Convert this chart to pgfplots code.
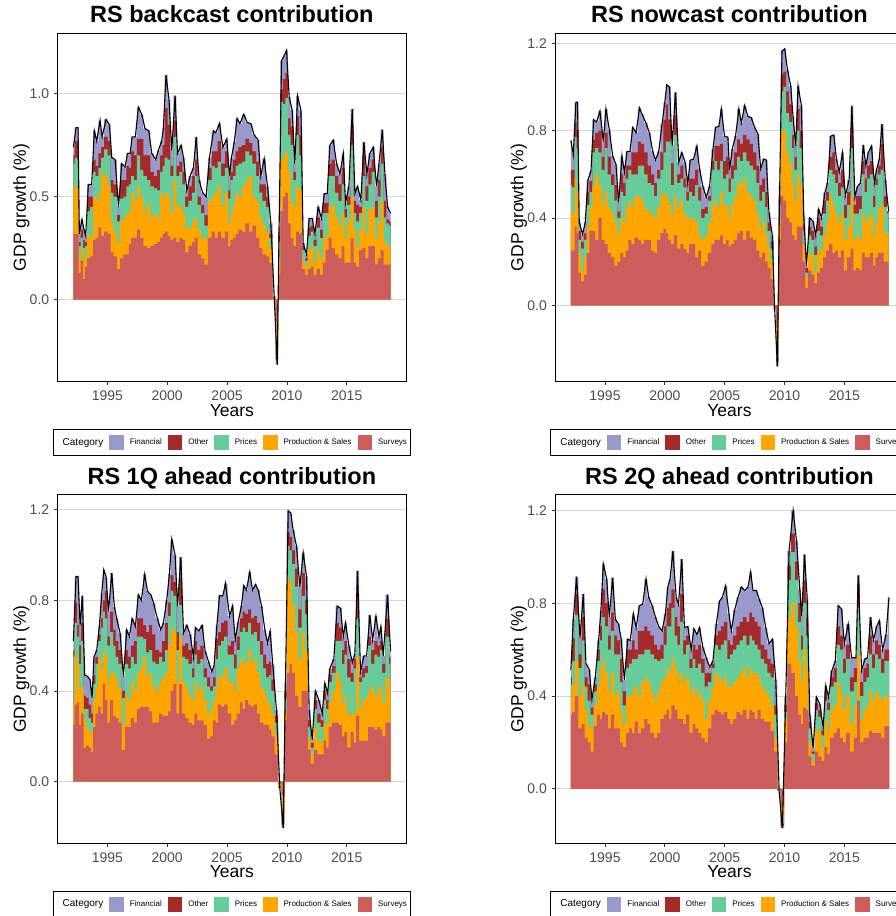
\documentclass[border=0pt]{standalone}
\usepackage{pgfplots}
\pgfplotsset{compat=1.18}
\usepackage{pgfplotstable}
\usepackage{fontspec}
\setmainfont{Liberation Sans}
\definecolor{cFin}{HTML}{9999CC}
\definecolor{cOth}{HTML}{A52A2A}
\definecolor{cPri}{HTML}{66CC99}
\definecolor{cPro}{HTML}{FFA500}
\definecolor{cSur}{HTML}{CD5C5C}
\definecolor{tickgray}{HTML}{4D4D4D}
\definecolor{gridgray}{HTML}{D6D6D6}

% cumulative tops: S=Surveys, P=+Production & Sales, R=+Prices, O=+Other, T=+Financial (total)
\pgfplotstableread{
t S P R O T
1992.16 0.32 0.55 0.66 0.70 0.74
1992.38 0.32 0.55 0.69 0.77 0.835
1992.55 0.32 0.54 0.68 0.76 0.835
1992.66 0.13 0.20 0.26 0.28 0.32
1992.88 0.19 0.25 0.30 0.34 0.39
1993.05 0.10 0.18 0.25 0.29 0.34
1993.19 0.16 0.22 0.26 0.28 0.31
1993.41 0.20 0.32 0.43 0.50 0.56
1993.69 0.21 0.30 0.45 0.50 0.56
1993.91 0.29 0.50 0.62 0.68 0.82
1994.11 0.30 0.48 0.60 0.65 0.77
1994.39 0.35 0.52 0.64 0.71 0.87
1994.56 0.31 0.62 0.69 0.74 0.79
1994.89 0.33 0.60 0.73 0.79 0.875
1995.17 0.32 0.55 0.70 0.77 0.85
1995.37 0.23 0.38 0.52 0.58 0.69
1995.65 0.21 0.33 0.50 0.56 0.68
1995.93 0.15 0.28 0.38 0.41 0.45
1996.20 0.20 0.38 0.49 0.58 0.66
1996.48 0.22 0.40 0.50 0.58 0.645
1996.68 0.22 0.42 0.55 0.65 0.71
1996.90 0.27 0.43 0.56 0.64 0.71
1997.07 0.30 0.52 0.60 0.72 0.79
1997.34 0.30 0.48 0.58 0.70 0.79
1997.59 0.34 0.55 0.70 0.78 0.935
1997.87 0.30 0.50 0.63 0.78 0.90
1998.15 0.26 0.43 0.60 0.70 0.83
1998.46 0.25 0.46 0.58 0.70 0.82
1998.71 0.26 0.40 0.55 0.62 0.71
1999.04 0.27 0.42 0.54 0.60 0.68
1999.26 0.28 0.40 0.53 0.63 0.725
1999.54 0.30 0.52 0.62 0.70 0.77
1999.68 0.32 0.50 0.65 0.75 0.835
1999.90 0.33 0.52 0.69 0.93 1.09
2000.15 0.31 0.50 0.68 0.85 0.97
2000.38 0.29 0.42 0.60 0.65 0.725
2000.66 0.30 0.58 0.79 0.87 0.99
2000.86 0.28 0.46 0.60 0.65 0.71
2001.16 0.30 0.45 0.62 0.67 0.75
2001.36 0.29 0.42 0.56 0.62 0.69
2001.64 0.23 0.35 0.45 0.50 0.53
2001.91 0.26 0.35 0.48 0.55 0.60
2002.19 0.28 0.38 0.52 0.60 0.64
2002.42 0.30 0.40 0.60 0.68 0.79
2002.67 0.22 0.34 0.46 0.50 0.58
2002.95 0.20 0.30 0.42 0.46 0.52
2003.25 0.17 0.30 0.36 0.41 0.50
2003.53 0.30 0.48 0.58 0.64 0.69
2003.87 0.33 0.50 0.65 0.72 0.82
2004.06 0.30 0.52 0.64 0.72 0.81
2004.37 0.33 0.55 0.67 0.77 0.855
2004.65 0.30 0.46 0.60 0.66 0.74
2004.98 0.33 0.52 0.64 0.72 0.78
2005.20 0.26 0.37 0.49 0.53 0.60
2005.37 0.29 0.42 0.58 0.62 0.69
2005.60 0.30 0.47 0.60 0.68 0.765
2005.84 0.32 0.52 0.65 0.72 0.88
2006.07 0.34 0.50 0.66 0.74 0.855
2006.40 0.33 0.55 0.67 0.75 0.90
2006.68 0.37 0.58 0.72 0.78 0.86
2006.99 0.33 0.60 0.70 0.76 0.855
2007.26 0.36 0.50 0.66 0.72 0.80
2007.60 0.30 0.48 0.60 0.67 0.775
2007.82 0.25 0.40 0.52 0.56 0.60
2008.10 0.22 0.36 0.48 0.56 0.685
2008.38 0.21 0.33 0.45 0.50 0.55
2008.66 0.18 0.25 0.30 0.32 0.37
2008.94 0.005 0.008 0.012 0.014 0.015
2009.19 -0.11 -0.225 -0.265 -0.29 -0.315
2009.35 0.12 0.18 0.28 0.31 0.355
2009.55 0.43 0.68 0.96 1.02 1.16
2009.77 0.50 0.70 0.95 1.07 1.185
2009.97 0.52 0.72 0.98 1.10 1.21
2010.19 0.37 0.62 0.80 0.88 0.985
2010.44 0.30 0.48 0.75 0.84 0.92
2010.66 0.26 0.45 0.58 0.62 0.66
2010.89 0.33 0.55 0.80 0.89 0.99
2011.17 0.32 0.53 0.70 0.80 0.92
2011.36 0.15 0.19 0.24 0.26 0.275
2011.64 0.12 0.16 0.19 0.20 0.22
2011.86 0.15 0.24 0.31 0.35 0.395
2012.11 0.16 0.26 0.33 0.36 0.395
2012.34 0.12 0.18 0.26 0.29 0.32
2012.61 0.15 0.24 0.35 0.40 0.45
2012.89 0.12 0.20 0.30 0.34 0.395
2013.12 0.18 0.30 0.42 0.47 0.515
2013.37 0.24 0.31 0.42 0.47 0.515
2013.59 0.30 0.45 0.60 0.66 0.75
2013.87 0.25 0.46 0.60 0.68 0.775
2014.15 0.22 0.40 0.52 0.60 0.66
2014.43 0.20 0.36 0.48 0.56 0.61
2014.71 0.26 0.42 0.56 0.64 0.71
2014.90 0.18 0.30 0.40 0.44 0.47
2015.18 0.18 0.38 0.46 0.50 0.55
2015.46 0.30 0.50 0.75 0.84 0.925
2015.68 0.18 0.34 0.42 0.48 0.515
2015.90 0.16 0.26 0.38 0.46 0.55
2016.18 0.24 0.34 0.42 0.45 0.485
2016.43 0.25 0.45 0.60 0.70 0.765
2016.68 0.20 0.32 0.48 0.55 0.61
2016.93 0.26 0.44 0.56 0.64 0.71
2017.21 0.26 0.45 0.62 0.68 0.74
2017.49 0.17 0.30 0.40 0.48 0.55
2017.69 0.20 0.38 0.50 0.58 0.66
2017.97 0.24 0.48 0.66 0.74 0.825
2018.19 0.17 0.28 0.40 0.48 0.61
2018.41 0.17 0.26 0.37 0.39 0.45
2018.66 0.17 0.26 0.36 0.38 0.42
}\tlA

\pgfplotstableread{
t S P R O T
1992.15 0.25 0.43 0.55 0.62 0.755
1992.35 0.25 0.42 0.54 0.62 0.69
1992.57 0.36 0.58 0.77 0.84 0.93
1992.71 0.33 0.52 0.72 0.80 0.93
1992.85 0.15 0.24 0.30 0.34 0.38
1993.13 0.11 0.16 0.26 0.29 0.325
1993.35 0.14 0.22 0.30 0.33 0.38
1993.58 0.24 0.36 0.46 0.52 0.575
1993.83 0.34 0.45 0.52 0.57 0.615
1994.05 0.34 0.55 0.70 0.76 0.85
1994.30 0.30 0.60 0.72 0.79 0.84
1994.58 0.40 0.55 0.70 0.80 0.89
1994.86 0.30 0.47 0.62 0.68 0.75
1995.08 0.28 0.52 0.72 0.79 0.90
1995.36 0.24 0.45 0.60 0.68 0.805
1995.64 0.22 0.42 0.55 0.60 0.685
1995.92 0.18 0.38 0.48 0.55 0.645
1996.14 0.20 0.33 0.40 0.43 0.47
1996.42 0.24 0.40 0.52 0.60 0.685
1996.62 0.22 0.38 0.50 0.56 0.61
1996.84 0.25 0.45 0.58 0.64 0.705
1997.09 0.30 0.48 0.62 0.64 0.705
1997.32 0.28 0.45 0.60 0.70 0.815
1997.60 0.31 0.50 0.60 0.70 0.79
1997.88 0.30 0.50 0.64 0.75 0.905
1998.10 0.28 0.48 0.64 0.74 0.875
1998.43 0.30 0.44 0.60 0.70 0.835
1998.71 0.30 0.43 0.56 0.64 0.79
1998.99 0.25 0.42 0.55 0.60 0.705
1999.22 0.24 0.40 0.50 0.56 0.665
1999.49 0.30 0.45 0.58 0.62 0.705
1999.77 0.33 0.50 0.62 0.70 0.83
2000.00 0.35 0.52 0.70 0.85 0.93
2000.16 0.33 0.50 0.75 0.92 1.01
2000.39 0.30 0.47 0.75 0.85 1.00
2000.61 0.28 0.42 0.55 0.65 0.73
2000.89 0.32 0.50 0.78 0.87 0.975
2001.17 0.26 0.45 0.56 0.60 0.655
2001.42 0.28 0.48 0.58 0.64 0.70
2001.70 0.26 0.42 0.54 0.58 0.655
2001.92 0.24 0.40 0.48 0.52 0.555
2002.12 0.28 0.40 0.52 0.58 0.665
2002.40 0.28 0.40 0.50 0.58 0.67
2002.68 0.22 0.38 0.55 0.62 0.73
2002.90 0.25 0.33 0.48 0.54 0.625
2003.18 0.18 0.30 0.40 0.44 0.545
2003.46 0.20 0.32 0.42 0.45 0.495
2003.74 0.24 0.38 0.48 0.50 0.545
2004.02 0.28 0.46 0.62 0.66 0.715
2004.24 0.30 0.48 0.66 0.73 0.815
2004.52 0.30 0.45 0.62 0.73 0.82
2004.72 0.32 0.52 0.66 0.74 0.90
2004.99 0.28 0.46 0.58 0.66 0.775
2005.27 0.30 0.46 0.60 0.68 0.77
2005.41 0.27 0.40 0.52 0.58 0.62
2005.63 0.28 0.46 0.58 0.64 0.715
2005.91 0.30 0.50 0.62 0.70 0.775
2006.19 0.33 0.56 0.68 0.76 0.90
2006.39 0.34 0.55 0.66 0.74 0.835
2006.67 0.30 0.58 0.70 0.78 0.915
2006.94 0.34 0.52 0.66 0.76 0.865
2007.22 0.31 0.50 0.64 0.74 0.86
2007.50 0.30 0.48 0.62 0.70 0.815
2007.78 0.25 0.42 0.56 0.64 0.785
2008.01 0.22 0.36 0.48 0.55 0.625
2008.26 0.24 0.38 0.52 0.58 0.67
2008.48 0.20 0.32 0.45 0.52 0.665
2008.70 0.17 0.26 0.34 0.38 0.425
2008.98 0.12 0.20 0.26 0.29 0.32
2009.18 -0.010 -0.012 -0.015 -0.018 -0.02
2009.40 -0.10 -0.17 -0.24 -0.26 -0.28
2009.60 0.30 0.40 0.46 0.50 0.545
2009.79 0.50 0.80 0.98 1.06 1.165
2010.02 0.48 0.80 1.00 1.07 1.175
2010.24 0.40 0.70 0.88 0.98 1.08
2010.52 0.38 0.65 0.84 0.92 1.005
2010.71 0.32 0.56 0.72 0.78 0.865
2010.94 0.30 0.48 0.62 0.68 0.73
2011.13 0.36 0.60 0.80 0.90 1.005
2011.41 0.36 0.55 0.72 0.80 0.915
2011.61 0.20 0.28 0.34 0.37 0.41
2011.83 0.08 0.13 0.15 0.17 0.18
2012.11 0.16 0.24 0.32 0.36 0.40
2012.39 0.14 0.23 0.30 0.34 0.385
2012.61 0.10 0.15 0.23 0.27 0.32
2012.86 0.15 0.24 0.34 0.40 0.44
2013.09 0.17 0.26 0.32 0.36 0.40
2013.37 0.22 0.32 0.42 0.48 0.515
2013.59 0.25 0.38 0.48 0.52 0.56
2013.87 0.28 0.50 0.62 0.68 0.775
2014.12 0.24 0.46 0.60 0.70 0.78
2014.34 0.25 0.42 0.56 0.62 0.67
2014.57 0.22 0.38 0.50 0.56 0.61
2014.85 0.25 0.42 0.54 0.62 0.70
2015.07 0.16 0.30 0.40 0.46 0.50
2015.40 0.22 0.36 0.46 0.52 0.575
2015.63 0.26 0.50 0.72 0.82 0.915
2015.88 0.16 0.30 0.42 0.46 0.495
2016.10 0.17 0.32 0.42 0.50 0.545
2016.35 0.16 0.30 0.44 0.50 0.56
2016.58 0.24 0.42 0.60 0.66 0.735
2016.80 0.22 0.38 0.52 0.58 0.64
2017.00 0.22 0.40 0.58 0.64 0.70
2017.27 0.24 0.42 0.60 0.66 0.73
2017.50 0.18 0.32 0.45 0.50 0.56
2017.69 0.22 0.38 0.55 0.58 0.62
2017.92 0.24 0.44 0.60 0.64 0.67
2018.14 0.24 0.46 0.62 0.74 0.83
2018.42 0.20 0.33 0.45 0.50 0.575
2018.70 0.20 0.33 0.42 0.43 0.43
}\trA

\pgfplotstableread{
t S P R O T
1992.16 0.25 0.35 0.55 0.58 0.62
1992.38 0.34 0.56 0.70 0.79 0.905
1992.55 0.35 0.52 0.64 0.69 0.905
1992.72 0.25 0.40 0.52 0.60 0.69
1992.91 0.30 0.42 0.62 0.70 0.82
1993.11 0.15 0.28 0.32 0.38 0.47
1993.33 0.16 0.24 0.32 0.37 0.465
1993.55 0.15 0.22 0.28 0.34 0.45
1993.72 0.13 0.22 0.26 0.30 0.37
1993.88 0.24 0.36 0.43 0.47 0.55
1994.11 0.30 0.42 0.52 0.55 0.58
1994.33 0.33 0.54 0.62 0.65 0.685
1994.53 0.30 0.50 0.68 0.72 0.83
1994.70 0.43 0.58 0.75 0.80 0.935
1994.89 0.36 0.56 0.72 0.84 0.905
1995.09 0.26 0.45 0.60 0.64 0.75
1995.37 0.36 0.48 0.66 0.75 0.92
1995.59 0.29 0.48 0.60 0.67 0.77
1995.78 0.28 0.45 0.55 0.62 0.72
1996.06 0.26 0.41 0.52 0.58 0.655
1996.34 0.14 0.25 0.37 0.40 0.465
1996.62 0.24 0.38 0.52 0.58 0.67
1996.84 0.24 0.36 0.50 0.55 0.64
1997.07 0.28 0.44 0.55 0.60 0.72
1997.34 0.26 0.40 0.52 0.62 0.685
1997.59 0.32 0.48 0.64 0.72 0.825
1997.84 0.33 0.50 0.64 0.72 0.80
1998.12 0.33 0.55 0.63 0.69 0.915
1998.35 0.33 0.46 0.57 0.66 0.84
1998.63 0.31 0.48 0.58 0.69 0.825
1998.85 0.26 0.42 0.53 0.65 0.79
1999.18 0.26 0.40 0.52 0.58 0.72
1999.46 0.30 0.44 0.55 0.57 0.67
1999.68 0.29 0.46 0.53 0.62 0.70
1999.96 0.29 0.48 0.58 0.70 0.80
2000.18 0.31 0.60 0.73 0.79 0.915
2000.38 0.40 0.68 0.84 0.91 1.07
2000.66 0.43 0.66 0.82 0.88 1.00
2000.86 0.30 0.44 0.58 0.66 0.775
2001.14 0.43 0.64 0.78 0.90 0.99
2001.36 0.30 0.44 0.55 0.60 0.655
2001.64 0.28 0.42 0.54 0.61 0.69
2001.91 0.26 0.38 0.52 0.58 0.65
2002.19 0.25 0.36 0.46 0.50 0.55
2002.36 0.30 0.44 0.56 0.62 0.68
2002.64 0.27 0.40 0.52 0.58 0.665
2002.92 0.27 0.42 0.54 0.60 0.69
2003.17 0.25 0.36 0.46 0.50 0.575
2003.45 0.19 0.30 0.42 0.46 0.53
2003.73 0.20 0.32 0.40 0.42 0.485
2003.92 0.27 0.36 0.42 0.46 0.515
2004.15 0.26 0.42 0.54 0.63 0.69
2004.37 0.34 0.46 0.60 0.66 0.82
2004.65 0.33 0.47 0.62 0.70 0.82
2004.87 0.34 0.50 0.64 0.71 0.875
2005.21 0.30 0.44 0.56 0.60 0.73
2005.46 0.25 0.44 0.56 0.62 0.775
2005.68 0.27 0.40 0.50 0.56 0.625
2005.93 0.30 0.50 0.58 0.64 0.705
2006.20 0.35 0.54 0.66 0.72 0.775
2006.40 0.32 0.52 0.68 0.75 0.865
2006.62 0.36 0.53 0.66 0.74 0.845
2006.90 0.34 0.58 0.70 0.76 0.925
2007.12 0.33 0.52 0.65 0.72 0.845
2007.38 0.34 0.54 0.66 0.73 0.87
2007.60 0.30 0.48 0.62 0.70 0.845
2007.88 0.26 0.42 0.56 0.62 0.775
2008.16 0.25 0.40 0.50 0.56 0.67
2008.38 0.25 0.36 0.46 0.52 0.61
2008.60 0.23 0.34 0.47 0.53 0.665
2008.82 0.20 0.30 0.40 0.45 0.515
2009.13 0.12 0.21 0.26 0.29 0.315
2009.41 -0.010 -0.020 -0.025 -0.028 -0.03
2009.69 -0.06 -0.16 -0.18 -0.19 -0.205
2009.88 0.27 0.31 0.37 0.40 0.435
2010.11 0.48 0.90 1.04 1.10 1.195
2010.33 0.52 0.88 1.02 1.08 1.185
2010.52 0.48 0.78 0.96 1.02 1.11
2010.80 0.38 0.66 0.86 0.94 1.04
2011.08 0.33 0.54 0.68 0.76 0.86
2011.36 0.40 0.66 0.82 0.92 1.01
2011.64 0.40 0.58 0.74 0.80 0.905
2011.86 0.14 0.19 0.24 0.27 0.315
2012.11 0.08 0.12 0.15 0.17 0.185
2012.39 0.14 0.24 0.32 0.36 0.40
2012.67 0.12 0.18 0.26 0.30 0.36
2012.95 0.12 0.18 0.24 0.27 0.30
2013.17 0.18 0.26 0.36 0.40 0.435
2013.40 0.15 0.25 0.32 0.36 0.39
2013.59 0.24 0.35 0.44 0.47 0.50
2013.92 0.26 0.40 0.48 0.51 0.54
2014.20 0.26 0.48 0.62 0.70 0.775
2014.48 0.25 0.44 0.62 0.68 0.765
2014.71 0.20 0.34 0.52 0.58 0.64
2014.90 0.22 0.38 0.56 0.62 0.70
2015.18 0.15 0.30 0.46 0.54 0.60
2015.46 0.22 0.30 0.44 0.48 0.525
2015.68 0.17 0.30 0.50 0.54 0.565
2015.90 0.29 0.55 0.72 0.83 0.93
2016.15 0.18 0.32 0.44 0.46 0.485
2016.43 0.18 0.36 0.46 0.50 0.555
2016.66 0.18 0.37 0.48 0.51 0.555
2016.93 0.24 0.40 0.60 0.64 0.735
2017.16 0.24 0.42 0.52 0.58 0.625
2017.44 0.23 0.38 0.56 0.62 0.73
2017.69 0.24 0.40 0.55 0.60 0.64
2017.85 0.23 0.42 0.58 0.62 0.685
2018.05 0.20 0.35 0.48 0.52 0.555
2018.41 0.26 0.46 0.64 0.72 0.825
2018.66 0.26 0.42 0.52 0.55 0.575
}\blA

\pgfplotstableread{
t S P R O T
1992.15 0.32 0.40 0.45 0.48 0.51
1992.35 0.33 0.45 0.55 0.65 0.73
1992.63 0.40 0.55 0.75 0.84 0.915
1992.91 0.26 0.40 0.52 0.58 0.65
1993.19 0.28 0.45 0.64 0.74 0.84
1993.41 0.22 0.34 0.44 0.48 0.54
1993.69 0.20 0.28 0.38 0.45 0.515
1993.91 0.16 0.26 0.32 0.35 0.385
1994.19 0.27 0.36 0.42 0.45 0.48
1994.47 0.32 0.44 0.55 0.60 0.64
1994.66 0.30 0.52 0.64 0.70 0.77
1994.86 0.33 0.55 0.74 0.86 0.97
1995.14 0.32 0.50 0.70 0.80 0.905
1995.36 0.26 0.42 0.60 0.66 0.74
1995.64 0.32 0.50 0.68 0.76 0.91
1995.87 0.26 0.40 0.58 0.66 0.73
1996.14 0.26 0.42 0.58 0.64 0.71
1996.34 0.20 0.34 0.46 0.56 0.65
1996.62 0.18 0.28 0.36 0.42 0.47
1996.90 0.24 0.40 0.52 0.60 0.645
1997.12 0.26 0.40 0.54 0.60 0.64
1997.37 0.24 0.42 0.56 0.64 0.755
1997.60 0.29 0.44 0.56 0.60 0.695
1997.88 0.24 0.40 0.58 0.68 0.79
1998.15 0.26 0.46 0.58 0.68 0.795
1998.43 0.30 0.48 0.60 0.70 0.905
1998.66 0.28 0.46 0.60 0.68 0.825
1998.94 0.24 0.42 0.58 0.66 0.79
1999.22 0.22 0.38 0.56 0.62 0.74
1999.49 0.24 0.42 0.55 0.60 0.70
1999.77 0.30 0.46 0.56 0.62 0.68
2000.05 0.32 0.48 0.62 0.70 0.755
2000.25 0.34 0.52 0.70 0.78 0.87
2000.44 0.30 0.50 0.70 0.80 0.905
2000.67 0.36 0.56 0.78 0.86 1.025
2000.95 0.34 0.52 0.66 0.74 0.825
2001.14 0.30 0.48 0.62 0.70 0.795
2001.42 0.30 0.50 0.72 0.84 0.99
2001.64 0.28 0.46 0.58 0.64 0.695
2001.92 0.32 0.48 0.62 0.66 0.70
2002.20 0.24 0.42 0.52 0.56 0.60
2002.43 0.28 0.44 0.56 0.62 0.69
2002.68 0.26 0.40 0.52 0.60 0.665
2002.90 0.24 0.42 0.54 0.62 0.695
2003.18 0.22 0.38 0.50 0.56 0.61
2003.46 0.20 0.30 0.44 0.50 0.565
2003.74 0.26 0.38 0.46 0.50 0.525
2004.02 0.32 0.44 0.52 0.54 0.55
2004.30 0.34 0.50 0.62 0.66 0.71
2004.58 0.33 0.48 0.60 0.68 0.81
2004.80 0.32 0.46 0.62 0.70 0.825
2005.08 0.33 0.48 0.64 0.72 0.875
2005.36 0.30 0.44 0.56 0.64 0.755
2005.55 0.28 0.44 0.58 0.62 0.68
2005.83 0.30 0.46 0.60 0.66 0.77
2006.11 0.33 0.48 0.62 0.70 0.825
2006.39 0.32 0.50 0.64 0.72 0.87
2006.67 0.34 0.52 0.66 0.74 0.855
2006.95 0.30 0.48 0.62 0.72 0.87
2007.17 0.34 0.52 0.66 0.76 0.935
2007.37 0.33 0.50 0.64 0.74 0.855
2007.65 0.30 0.50 0.62 0.72 0.855
2007.87 0.34 0.48 0.60 0.70 0.82
2008.15 0.30 0.44 0.56 0.62 0.78
2008.43 0.29 0.42 0.54 0.60 0.695
2008.71 0.29 0.40 0.50 0.56 0.625
2008.99 0.25 0.36 0.48 0.54 0.645
2009.27 0.16 0.22 0.32 0.36 0.47
2009.55 -0.005 -0.007 -0.008 -0.009 -0.01
2009.82 -0.08 -0.13 -0.15 -0.16 -0.17
2010.10 0.20 0.30 0.33 0.36 0.395
2010.38 0.54 0.74 0.90 0.96 1.025
2010.72 0.50 0.80 1.02 1.10 1.20
2011.00 0.40 0.70 0.90 0.98 1.07
2011.28 0.32 0.55 0.72 0.80 0.86
2011.44 0.28 0.46 0.60 0.66 0.745
2011.67 0.35 0.60 0.80 0.90 1.01
2011.89 0.34 0.52 0.66 0.74 0.825
2012.11 0.14 0.20 0.26 0.29 0.32
2012.39 0.10 0.12 0.15 0.16 0.175
2012.67 0.16 0.26 0.34 0.37 0.395
2012.95 0.14 0.24 0.31 0.34 0.365
2013.23 0.12 0.18 0.23 0.25 0.265
2013.45 0.18 0.30 0.38 0.42 0.445
2013.68 0.15 0.26 0.34 0.37 0.395
2013.96 0.22 0.34 0.44 0.48 0.51
2014.24 0.24 0.36 0.46 0.52 0.55
2014.49 0.26 0.46 0.62 0.70 0.79
2014.77 0.22 0.42 0.60 0.66 0.775
2014.99 0.20 0.34 0.50 0.56 0.625
2015.32 0.24 0.40 0.56 0.62 0.71
2015.60 0.16 0.28 0.42 0.48 0.565
2015.97 0.22 0.36 0.46 0.52 0.565
2016.16 0.38 0.58 0.78 0.88 0.92
2016.44 0.20 0.30 0.40 0.46 0.51
2016.72 0.22 0.34 0.46 0.52 0.56
2016.94 0.22 0.36 0.48 0.54 0.565
2017.19 0.25 0.42 0.58 0.66 0.74
2017.42 0.24 0.38 0.52 0.58 0.64
2017.70 0.24 0.42 0.58 0.64 0.70
2017.92 0.24 0.40 0.56 0.62 0.725
2018.20 0.22 0.38 0.50 0.56 0.60
2018.48 0.27 0.40 0.55 0.60 0.665
2018.73 0.27 0.40 0.55 0.60 0.825
}\brA

\pgfplotsset{
  keyfill/.style={legend image code/.code={\fill[##1] (0pt,-7.5pt) rectangle (14.5pt,7.5pt);}},
  rsaxis/.style={
    scale only axis, width=348.3pt, height=348.4pt,
    xmin=1990.85, xmax=2019.95,
    xtick={1995,2000,2005,2010,2015},
    xticklabel style={/pgf/number format/1000 sep={}, anchor=north, inner sep=0pt, yshift=-5.6pt},
    yticklabel style={/pgf/number format/fixed, /pgf/number format/fixed zerofill, /pgf/number format/precision=1, anchor=east, inner sep=0pt, xshift=-4.8pt},
    /pgf/number format/assume math mode=true,
    tick label style={font=\fontsize{14}{14}\selectfont, text=tickgray},
    tick align=outside, major tick length=3.5pt,
    tick style={color=black!80, line width=0.8pt},
    tick pos=left,
    axis line style={line width=0.9pt, black},
    ymajorgrids, major grid style={line width=0.75pt, color=gridgray},
    xlabel={Years}, ylabel={GDP growth (\%)},
    label style={font=\fontsize{17.5}{17.5}\selectfont},
    xlabel style={at={(axis description cs:0.5,0)}, anchor=base, yshift=-34.5pt},
    ylabel style={at={(axis description cs:-0.0915,0.5)}, anchor=base},
    title style={font=\fontsize{23.5}{23.5}\selectfont\bfseries, at={(axis description cs:0.5,1)}, anchor=base, yshift=4.7pt},
    legend columns=-1,
    legend style={at={(axis description cs:0.5,0)}, anchor=north, yshift=-47.7pt,
      draw=black, line width=0.8pt, inner xsep=3.5pt, inner ysep=5.3pt,
      font=\fontsize{8}{8}\selectfont, nodes={inner sep=0pt},
      /tikz/every odd column/.append style={column sep=6pt},
      /tikz/every even column/.append style={column sep=6pt},
      /tikz/column 1/.style={column sep=0pt}},
  }
}

\newcommand{\rsplots}[1]{%
  \addlegendimage{legend image code/.code={}}
  \addlegendentry{\fontsize{10}{10}\selectfont Category}
  \addplot[fill=cFin, draw=none, const plot mark mid, keyfill] table[x=t,y=T]{#1} \closedcycle;
  \addlegendentry{Financial}
  \addplot[fill=cOth, draw=none, const plot mark mid, keyfill] table[x=t,y=O]{#1} \closedcycle;
  \addlegendentry{Other}
  \addplot[fill=cPri, draw=none, const plot mark mid, keyfill] table[x=t,y=R]{#1} \closedcycle;
  \addlegendentry{Prices}
  \addplot[fill=cPro, draw=none, const plot mark mid, keyfill] table[x=t,y=P]{#1} \closedcycle;
  \addlegendentry{Production \& Sales}
  \addplot[fill=cSur, draw=none, const plot mark mid, keyfill] table[x=t,y=S]{#1} \closedcycle;
  \addlegendentry{Surveys}
  \addplot[black, line width=1.1pt, forget plot] table[x=t,y=T]{#1};
}

\begin{document}
\begin{tikzpicture}
\path[use as bounding box, clip] (0pt,0pt) rectangle (896pt,916pt);
\begin{axis}[rsaxis, at={(57.7pt,534.3pt)}, anchor=south west,
  ymin=-0.398, ymax=1.293, ytick={0,0.5,1},
  title={RS backcast contribution}]
\rsplots{\tlA}
\end{axis}
\begin{axis}[rsaxis, at={(555.3pt,534.3pt)}, anchor=south west,
  ymin=-0.35, ymax=1.246, ytick={0,0.4,0.8,1.2},
  title={RS nowcast contribution}]
\rsplots{\trA}
\end{axis}
\begin{axis}[rsaxis, at={(57.7pt,72.7pt)}, anchor=south west,
  ymin=-0.272, ymax=1.265, ytick={0,0.4,0.8,1.2},
  title={RS 1Q ahead contribution}]
\rsplots{\blA}
\end{axis}
\begin{axis}[rsaxis, at={(555.3pt,72.7pt)}, anchor=south west,
  ymin=-0.235, ymax=1.267, ytick={0,0.4,0.8,1.2},
  title={RS 2Q ahead contribution}]
\rsplots{\brA}
\end{axis}
\end{tikzpicture}
\end{document}
